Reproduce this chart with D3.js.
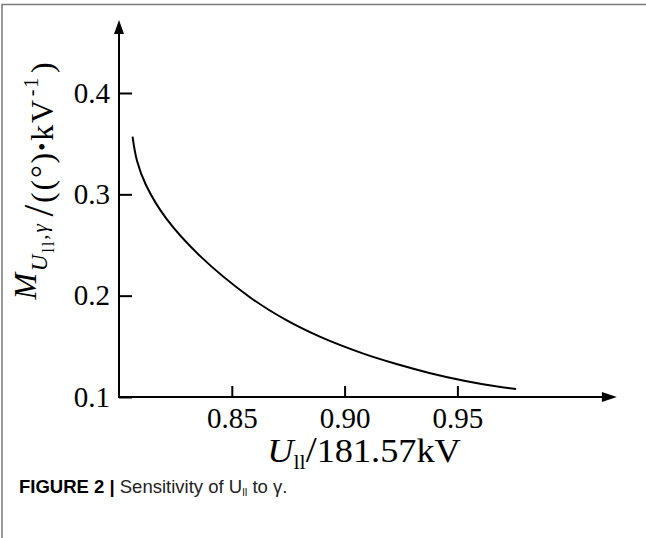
<!DOCTYPE html>
<html>
<head>
<meta charset="utf-8">
<script src="https://cdn.jsdelivr.net/npm/d3@7"></script>
<style>
  body { margin: 0; background: #fff; }
  svg { display: block; }
  .tick text { font-family: "Liberation Serif", "Times New Roman", serif; font-size: 29px; fill: #000; }
</style>
</head>
<body>
<div id="chart"></div>
<script>
// values
var uValues = [0.806, 0.808, 0.812, 0.821, 0.836, 0.858, 0.874, 0.889, 0.908, 0.923, 0.938, 0.953, 0.967, 0.976];
var mValues = [0.357, 0.333, 0.309, 0.276, 0.239, 0.1985, 0.176, 0.1595, 0.143, 0.1325, 0.1235, 0.116, 0.1105, 0.108];

var xTicks = [0.85, 0.90, 0.95];
var yTicks = [0.1, 0.2, 0.3, 0.4];

var W = 646, H = 538;
var svg = d3.select("#chart").append("svg").attr("width", W).attr("height", H);

var x = d3.scaleLinear().domain([0.80, 1.0]).range([119, 570.2]);
var y = d3.scaleLinear().domain([0.1, 0.4]).range([397, 93]);
var xMax = 1.0207, yMax = 0.472; // where the arrows end

//frame lines
svg.append("path")
  .attr("d", "M2,538 V4.5 H646")
  .attr("fill", "none")
  .attr("stroke", "#7a7a7a")
  .attr("stroke-width", 1.5);

//axes
var xAxis = d3.axisBottom(x).tickValues(xTicks).tickSize(-11).tickPadding(10).tickFormat(d3.format(".2f"));
var yAxis = d3.axisLeft(y).tickValues(yTicks).tickSize(-13).tickPadding(9).tickFormat(d3.format(".1f"));

var gx = svg.append("g").attr("transform", "translate(0," + y(0.1) + ")").call(xAxis);
var gy = svg.append("g").attr("transform", "translate(" + x(0.8) + ",0)").call(yAxis);
gx.select(".domain").remove();
gy.select(".domain").remove();
svg.selectAll(".tick line").attr("stroke", "#000").attr("stroke-width", 2);
gx.selectAll(".tick text").attr("dy", "0.71em");

svg.append("line")
  .attr("x1", x(0.8)).attr("x2", x(xMax) - 10)
  .attr("y1", y(0.1)).attr("y2", y(0.1))
  .attr("stroke", "#000").attr("stroke-width", 2);
svg.append("line")
  .attr("x1", x(0.8)).attr("x2", x(0.8))
  .attr("y1", y(0.1) + 1).attr("y2", y(yMax) + 10)
  .attr("stroke", "#000").attr("stroke-width", 2);

// arrow heads
var ax = x(xMax), ay = y(0.1);
svg.append("path")
  .attr("d", "M" + ax + "," + ay + " L" + (ax - 15) + "," + (ay - 5) + " L" + (ax - 15) + "," + (ay + 5) + "Z")
  .attr("fill", "#000");
var bx = x(0.8), by = y(yMax);
svg.append("path")
  .attr("d", "M" + bx + "," + by + " L" + (bx - 5) + "," + (by + 14) + " L" + (bx + 5) + "," + (by + 14) + "Z")
  .attr("fill", "#000");

// curve
var pts = uValues.map(function(u, i) { return [u, mValues[i]]; });
var line = d3.line()
  .x(function(d) { return x(d[0]); })
  .y(function(d) { return y(d[1]); })
  .curve(d3.curveCatmullRom.alpha(0.5));

svg.append("path")
  .datum(pts)
  .attr("d", line)
  .attr("fill", "none")
  .attr("stroke", "#000")
  .attr("stroke-width", 2);

// x label
var xl = svg.append("text")
  .attr("text-anchor", "middle")
  .attr("transform", "translate(364,462) scale(1.1,1)")
  .style("font-family", "Liberation Serif, serif")
  .style("font-size", "33px");
xl.append("tspan").style("font-style", "italic").text("U");
xl.append("tspan").style("font-size", "20px").attr("dy", 7).text("ll");
xl.append("tspan").style("font-size", "36px").attr("dy", -7).text("/");
xl.append("tspan").text("181.57kV");

// y label
var yl = svg.append("g")
  .attr("transform", "translate(53,180) rotate(-90)")
  .append("text")
  .attr("x", 0).attr("y", 0)
  .attr("text-anchor", "middle")
  .style("font-family", "Liberation Serif, serif")
  .style("font-size", "32px")
  .style("letter-spacing", "1.8px");
yl.append("tspan").style("font-style", "italic").style("font-size", "32px").attr("dy", -17).text("M");
yl.append("tspan").style("font-style", "italic").style("font-size", "23px").attr("dy", 11).text("U");
yl.append("tspan").style("font-size", "17px").attr("dy", 7).text("ll");
yl.append("tspan").style("font-size", "21px").attr("dy", -7).text(",");
yl.append("tspan").style("font-style", "italic").style("font-size", "21px").text("γ");
yl.append("tspan").style("font-size", "42px").attr("dy", 6).attr("dx", 6).text("/");
yl.append("tspan").text("((°)");
yl.append("tspan").style("font-size", "24px").attr("dy", -3).text("•");
yl.append("tspan").attr("dy", 3).text("kV");
yl.append("tspan").style("font-size", "20px").attr("dy", -15).attr("dx", 2).text("-1");
yl.append("tspan").attr("dy", 15).attr("dx", 3).text(")");

// caption
var cap = svg.append("text")
  .attr("x", 19).attr("y", 493)
  .style("font-family", "Liberation Sans, Arial, sans-serif")
  .style("font-size", "18.5px")
  .attr("fill", "#222");
cap.append("tspan").style("font-weight", "bold").attr("fill", "#000").text("FIGURE 2 | ");
cap.append("tspan").text("Sensitivity of U");
cap.append("tspan").style("font-size", "11.5px").attr("dy", 3).text("ll");
cap.append("tspan").attr("dy", -3).text(" to γ.");
</script>
</body>
</html>
